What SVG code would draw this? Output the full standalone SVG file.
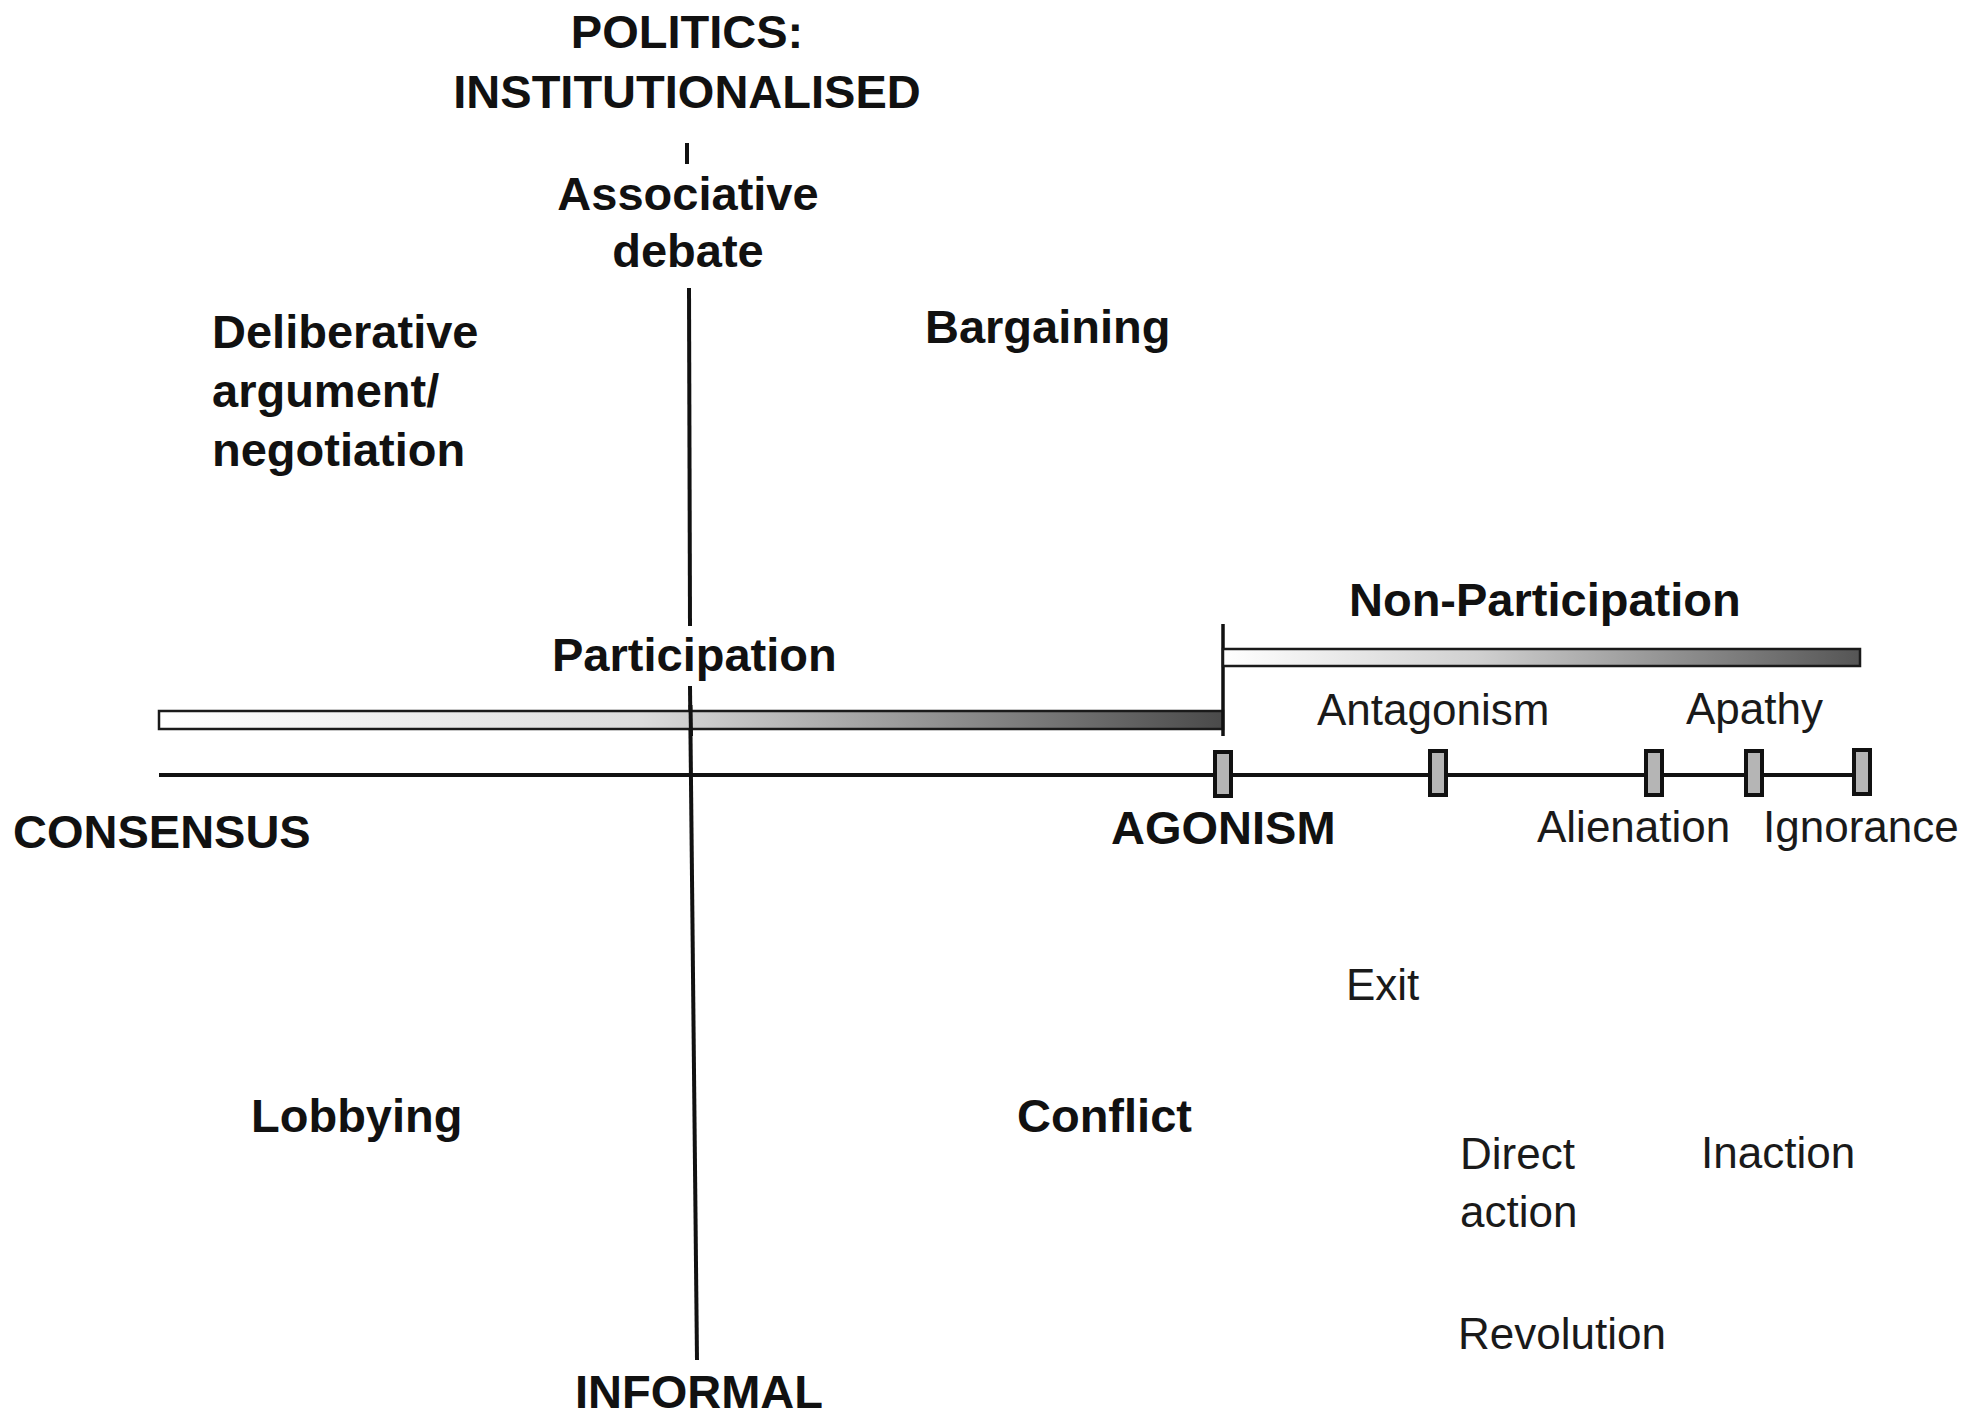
<svg xmlns="http://www.w3.org/2000/svg" width="1984" height="1416" viewBox="0 0 1984 1416">
  <style>
    .b { font-family: "Liberation Sans", Arial, Helvetica, sans-serif; font-weight: bold; font-size: 47px; fill: #111; }
    .r { font-family: "Liberation Sans", Arial, Helvetica, sans-serif; font-size: 44px; fill: #1a1a1a; }
    .c { text-anchor: middle; }
    .ax { stroke: #111; stroke-width: 4; fill: none; stroke-linecap: butt; }
    .bar { stroke: #1a1a1a; stroke-width: 2.5; }
    .tick { fill: #b5b5b5; stroke: #111; stroke-width: 4; }
  </style>
  <defs>
    <linearGradient id="gradP" x1="0" y1="0" x2="1" y2="0">
      <stop offset="0" stop-color="#ffffff"/>
      <stop offset="0.45" stop-color="#dcdcdc"/>
      <stop offset="1" stop-color="#4a4a4a"/>
    </linearGradient>
    <linearGradient id="gradN" x1="0" y1="0" x2="1" y2="0">
      <stop offset="0" stop-color="#ffffff"/>
      <stop offset="0.4" stop-color="#d0d0d0"/>
      <stop offset="1" stop-color="#555555"/>
    </linearGradient>
  </defs>
  <rect x="0" y="0" width="1984" height="1416" fill="#ffffff"/>

  <g id="connectors">
    <!-- vertical axis (institutionalised - informal) -->
    <line class="ax" x1="687" y1="143" x2="687" y2="164"/>
    <line class="ax" x1="689" y1="288" x2="690" y2="626"/>
    <line class="ax" x1="690" y1="686" x2="697" y2="1360"/>
    <!-- participation bar -->
    <rect class="bar" x="159" y="711" width="1064" height="18" fill="url(#gradP)"/>
    <!-- vertical axis drawn over bar -->
    <line class="ax" x1="690.5" y1="705" x2="691" y2="736"/>
    <!-- separator -->
    <line class="ax" x1="1223" y1="624" x2="1223" y2="736" style="stroke-width:3.5"/>
    <!-- non-participation bar -->
    <rect class="bar" x="1223" y="649" width="637" height="17" fill="url(#gradN)"/>
    <!-- horizontal axis -->
    <line class="ax" x1="159" y1="775" x2="1862" y2="775"/>
    <!-- tick boxes -->
    <rect class="tick" x="1215" y="752" width="16" height="44"/>
    <rect class="tick" x="1430" y="751" width="16" height="44"/>
    <rect class="tick" x="1646" y="751" width="16" height="44"/>
    <rect class="tick" x="1746" y="751" width="16" height="44"/>
    <rect class="tick" x="1854" y="750" width="16" height="44"/>
  </g>

  <g id="politics-institutionalised">
    <text class="b c" x="687" y="48">POLITICS:</text>
    <text class="b c" x="687" y="108">INSTITUTIONALISED</text>
  </g>
  <g id="associative-debate">
    <text class="b c" x="688" y="210">Associative</text>
    <text class="b c" x="688" y="267">debate</text>
  </g>
  <g id="deliberative">
    <text class="b" x="212" y="348">Deliberative</text>
    <text class="b" x="212" y="407">argument/</text>
    <text class="b" x="212" y="466">negotiation</text>
  </g>
  <g id="bargaining">
    <text class="b" x="925" y="343">Bargaining</text>
  </g>
  <g id="non-participation">
    <text class="b" x="1349" y="616">Non-Participation</text>
  </g>
  <g id="participation">
    <text class="b" x="552" y="671">Participation</text>
  </g>
  <g id="antagonism">
    <text class="r" x="1317" y="725">Antagonism</text>
  </g>
  <g id="apathy">
    <text class="r" x="1686" y="724">Apathy</text>
  </g>
  <g id="consensus">
    <text class="b" x="13" y="848">CONSENSUS</text>
  </g>
  <g id="agonism">
    <text class="b" x="1111" y="844">AGONISM</text>
  </g>
  <g id="alienation">
    <text class="r" x="1537" y="842">Alienation</text>
  </g>
  <g id="ignorance">
    <text class="r" x="1763" y="842">Ignorance</text>
  </g>
  <g id="exit">
    <text class="r" x="1346" y="1000">Exit</text>
  </g>
  <g id="lobbying">
    <text class="b" x="251" y="1132">Lobbying</text>
  </g>
  <g id="conflict">
    <text class="b" x="1017" y="1132">Conflict</text>
  </g>
  <g id="direct-action">
    <text class="r" x="1460" y="1169">Direct</text>
    <text class="r" x="1460" y="1227">action</text>
  </g>
  <g id="inaction">
    <text class="r" x="1701" y="1168">Inaction</text>
  </g>
  <g id="revolution">
    <text class="r" x="1458" y="1349">Revolution</text>
  </g>
  <g id="informal">
    <text class="b" x="575" y="1408">INFORMAL</text>
  </g>
</svg>
